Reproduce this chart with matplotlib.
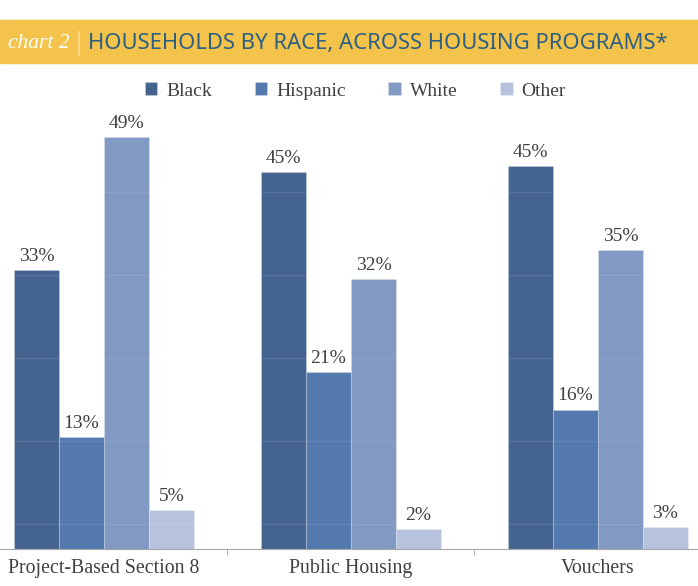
import numpy as np
import matplotlib.pyplot as plt
from matplotlib.patches import Rectangle

programs = ['Project-Based Section 8', 'Public Housing', 'Vouchers']
races = ['Black', 'Hispanic', 'White', 'Other']
black = [32.8, 44.3, 45.1]
hispanic = [13.2, 20.8, 16.4]
white = [48.5, 31.8, 35.2]
other = [4.6, 2.4, 2.6]
black_lbl = ['33%', '45%', '45%']
hispanic_lbl = ['13%', '21%', '16%']
white_lbl = ['49%', '32%', '35%']
other_lbl = ['5%', '2%', '3%']

series = [black, hispanic, white, other]
labels = [black_lbl, hispanic_lbl, white_lbl, other_lbl]
colors = ['#45638F', '#5479AE', '#8299C4', '#B7C2DD']

serif = 'Liberation Serif'
txt = '#404040'

fig = plt.figure(figsize=(6.98, 5.86), dpi=100)
ax = fig.add_axes([0, 1 - 549 / 586, 1, 55 * 8.5 / 586])

x = np.arange(len(programs))
w = 0.182
for i, (vals, lbls) in enumerate(zip(series, labels)):
    pos = x + (i - 1.5) * w
    ax.bar(pos, vals, w, color=colors[i], edgecolor=(1, 1, 1, 0.2),
           linewidth=0.8, label=races[i], zorder=2)
    for p, v, l in zip(pos, vals, lbls):
        ax.text(p, v + 0.6, l, ha='center', va='bottom', fontsize=14,
                family=serif, color=txt)

# faint gridlines only show across the bars
for g in [2.9, 12.7, 22.5, 32.2, 42.0]:
    ax.axhline(g, color='white', alpha=0.09, lw=1, zorder=3)

ax.set_xlim(-0.421, 2.405)
ax.set_ylim(0, 55)
ax.set_yticks([])
ax.set_xticks(x)
ax.set_xticklabels(programs, fontsize=14.3, family=serif, color=txt)
ax.tick_params(axis='x', length=0, pad=7)
ax.set_xticks([0.5, 1.5], minor=True)
ax.tick_params(axis='x', which='minor', length=4, color='#A6A6A6', direction='out')
for s in ['top', 'left', 'right']:
    ax.spines[s].set_visible(False)
ax.spines['bottom'].set_color('#A6A6A6')

# title banner
fig.patches.append(Rectangle((0, 1 - 63 / 586), 1, 43 / 586, transform=fig.transFigure,
                             color='#F4C34C', zorder=0))
fig.text(8 / 698, 1 - 43 / 586, 'chart 2', family=serif, style='italic', fontsize=15.5,
         color='white', va='center', ha='left')
fig.text(75 / 698, 1 - 43 / 586, '|', family='DejaVu Sans', fontsize=17, color='#FBE9BE',
         va='center', ha='left', fontweight='light')
fig.text(88 / 698, 1 - 43 / 586, 'HOUSEHOLDS BY RACE, ACROSS HOUSING PROGRAMS*',
         family='Noto Sans', fontsize=15.9, color='#2D6082', va='center', ha='left')

fig.legend(loc='center', bbox_to_anchor=(0.509, 1 - 91 / 586), ncol=4, frameon=False,
           handlelength=0.65, handleheight=0.65, handletextpad=0.45, columnspacing=2.2,
           prop={'family': serif, 'size': 14}, labelcolor=txt)

fig.savefig('out.png', dpi=100)
